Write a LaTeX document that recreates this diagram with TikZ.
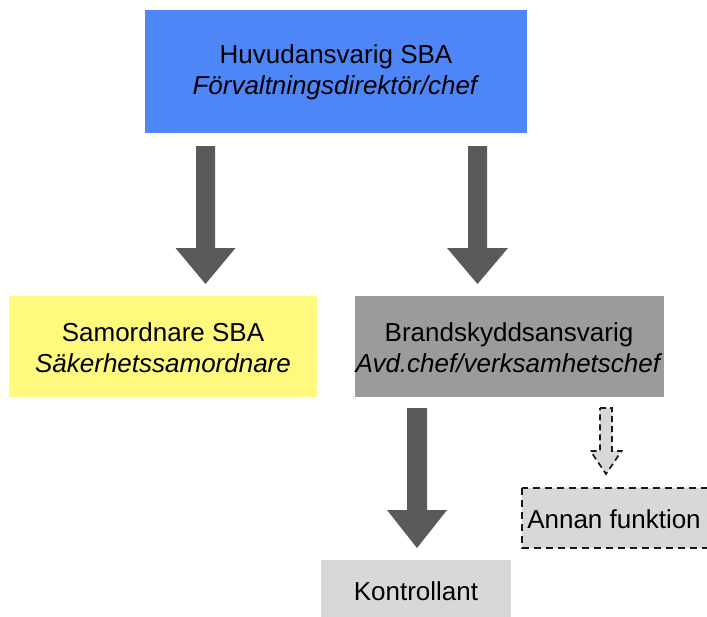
\documentclass[tikz,border=0pt]{standalone}
\usepackage{fontspec}
\setmainfont{Liberation Sans}
\definecolor{topblue}{RGB}{79,134,247}
\definecolor{sbayellow}{RGB}{255,249,125}
\definecolor{midgray}{RGB}{155,155,155}
\definecolor{lightgray2}{RGB}{216,216,216}
\definecolor{arrowgray}{RGB}{90,90,90}
\tikzset{
  box/.style={inner sep=0pt, align=center, font=\fontsize{26}{31}\selectfont},
  blockarrow/.style={fill=arrowgray, draw=none},
  dasharrow/.style={fill=lightgray2, draw=black!90, line width=1.7pt, dash pattern=on 6pt off 4pt},
}
% \barrow{style}{x}{top}{headstart}{tip}{shaft half}{head half}
\newcommand\barrow[7]{%
  \path[#1] (#2-#6,#3) -- (#2+#6,#3) -- (#2+#6,#4) -- (#2+#7,#4) -- (#2,#5) -- (#2-#7,#4) -- (#2-#6,#4) -- cycle;}
\begin{document}
\begin{tikzpicture}[x=1pt,y=-1pt]
\useasboundingbox (0,0) rectangle (707,616);
% boxes
\fill[topblue] (145,10) rectangle (527,133);
\node[box] (top) at (336,72) {Huvudansvarig SBA\\\textit{Förvaltningsdirektör/chef}};
\fill[sbayellow] (9,296) rectangle (317,397);
\node[box] (samord) at (163,348) {Samordnare SBA\\\textit{Säkerhetssamordnare}};
\fill[midgray] (355,296) rectangle (664,397);
\node[box] (brand) at (509,348) {Brandskyddsansvarig\\\textit{Avd.chef/verksamhetschef}};
\draw[fill=lightgray2, draw=black!90, line width=1.6pt, dash pattern=on 7pt off 5pt] (522,488) rectangle (711,548);
\node[box] (annan) at (614,519) {Annan funktion};
\fill[lightgray2] (321,560) rectangle (511,630);
\node[box] (kontroll) at (416,591) {Kontrollant};
% arrows
\barrow{blockarrow}{205.5}{146}{248}{284}{9.5}{30}
\barrow{blockarrow}{477.5}{146}{248}{284}{9.5}{30.5}
\barrow{blockarrow}{417}{408}{510}{548}{10}{30}
\barrow{dasharrow}{606}{408}{451}{474}{6}{15.5}
\end{tikzpicture}
\end{document}
